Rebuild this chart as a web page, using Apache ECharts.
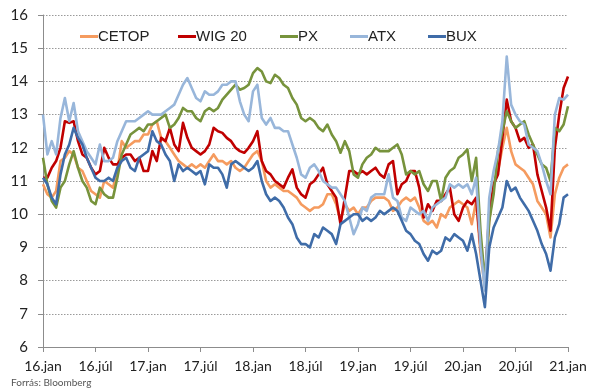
<!DOCTYPE html>
<html>
<head>
<meta charset="utf-8">
<script src="https://cdn.jsdelivr.net/npm/echarts@6/dist/echarts.min.js"></script>
<style>
html,body{margin:0;padding:0;background:#fff;}
#chart{width:591px;height:389px;}
</style>
</head>
<body>
<div id="chart"></div>
<script>
// Semi-monthly observations, Jan 2016 .. Jan 2021 (121 points each)
const seriesNames = ['CETOP', 'WIG 20', 'PX', 'ATX', 'BUX'];
const tickLabels = ['16.jan','16.júl','17.jan','17.júl','18.jan','18.júl','19.jan','19.júl','20.jan','20.júl','21.jan'];

const cetop = [
 10.9,10.6,10.5,10.7,11.6,11.7,11.9,11.8,11.4,11.3,11.0,10.7,10.6,10.5,11.0,10.9,10.8,11.3,12.2,12.0,12.1,12.2,12.2,12.4,
 12.4,12.7,12.8,12.3,12.2,12.0,11.8,11.6,11.5,11.4,11.5,11.4,11.5,11.4,11.6,11.8,11.6,11.6,11.5,11.6,11.4,11.3,11.4,11.6,
 11.8,11.9,11.6,11.0,10.8,10.9,10.8,10.7,10.7,10.6,10.5,10.3,10.2,10.1,10.2,10.2,10.3,10.6,10.6,10.3,9.8,10.3,10.1,10.2,
 10.0,10.2,10.2,10.4,10.5,10.5,10.5,10.4,10.1,10.2,10.4,10.5,10.4,10.5,10.2,9.8,9.7,9.8,9.6,10.0,9.9,10.2,10.3,10.4,
 10.3,10.2,9.7,10.4,8.8,7.8,9.8,10.9,11.3,12.0,12.6,11.9,11.5,11.4,11.3,11.1,10.9,10.4,10.2,10.0,9.3,10.6,11.1,11.4,
 11.5
];
const wig20 = [
 11.1,11.1,11.4,11.6,12.0,12.8,12.75,12.8,12.2,11.8,11.7,11.4,11.2,11.3,12.0,11.7,11.5,11.5,11.7,11.8,11.8,11.6,11.7,11.3,
 11.3,11.9,11.6,12.3,12.2,12.6,12.1,11.9,12.75,12.3,12.0,11.9,11.8,11.9,12.1,12.6,12.5,12.45,12.3,12.2,12.0,11.9,11.85,12.0,
 12.2,12.5,11.6,11.3,11.2,11.0,10.9,10.8,11.1,11.35,10.8,10.6,10.5,10.9,11.0,11.2,11.4,10.9,10.7,10.5,9.7,10.5,11.3,11.3,
 11.2,11.3,11.2,11.3,11.4,11.2,11.1,11.5,11.6,10.6,10.9,11.0,11.3,11.3,10.8,9.9,10.3,10.1,10.4,10.4,10.6,10.8,10.0,9.8,
 10.2,10.4,10.3,10.5,9.0,8.0,10.0,10.9,11.2,12.3,13.45,12.8,12.6,12.2,12.3,12.0,12.1,11.2,10.7,10.2,9.5,12.0,13.0,13.8,
 14.15
];
const px = [
 11.7,10.9,10.4,10.2,10.8,11.0,11.5,11.9,11.4,11.0,10.8,10.4,10.3,10.8,10.6,10.5,10.5,11.1,11.8,12.1,12.4,12.5,12.6,12.5,
 12.7,12.7,12.8,12.9,13.0,12.6,12.7,12.9,13.2,13.1,13.1,12.9,12.8,13.1,13.2,13.1,13.2,13.45,13.6,13.75,13.9,13.75,13.8,13.9,
 14.25,14.4,14.3,14.0,13.95,14.2,14.1,13.9,13.8,13.5,13.3,12.9,12.8,12.9,12.8,12.6,12.5,12.7,12.4,12.2,11.85,12.2,11.9,11.2,
 11.1,11.5,11.7,11.8,12.0,11.9,11.9,11.9,12.0,12.1,11.8,11.2,11.3,11.2,11.3,10.9,10.7,11.0,11.0,10.4,11.1,11.3,11.4,11.7,
 11.8,11.95,11.0,11.7,9.5,8.0,9.8,10.6,11.9,12.5,13.1,12.8,12.6,12.7,12.8,12.4,12.1,11.8,11.5,11.4,11.0,12.6,12.5,12.7,
 13.25
];
const atx = [
 13.0,11.8,12.2,11.8,12.9,13.5,12.8,13.35,12.5,12.2,11.9,11.7,11.5,12.1,11.6,11.6,11.7,12.2,12.5,12.8,12.8,12.8,12.9,13.0,
 13.1,13.0,13.0,13.0,13.1,13.2,13.3,13.6,13.9,14.1,13.8,13.5,13.4,13.7,13.6,13.6,13.7,13.9,13.9,14.0,14.0,13.4,13.0,12.8,
 13.7,13.9,12.9,12.7,12.9,12.6,12.6,12.5,12.5,12.1,11.7,11.2,11.1,11.4,11.5,11.3,11.0,10.9,10.8,10.8,10.6,10.4,9.9,9.4,
 9.7,10.2,10.1,10.5,10.6,10.6,10.6,11.2,10.5,10.4,9.9,9.8,10.2,10.1,10.0,10.1,9.8,10.2,10.3,10.4,10.5,10.9,10.8,10.9,
 10.8,10.9,10.6,11.1,9.0,7.7,10.5,11.3,11.9,12.8,14.75,13.3,13.0,12.8,12.7,12.1,12.0,11.9,11.5,11.0,10.6,13.0,13.5,13.45,
 13.6
];
const bux = [
 11.1,10.9,10.5,10.3,11.2,11.8,12.1,12.6,12.3,12.1,11.7,11.4,11.1,11.0,11.0,11.1,11.0,11.4,11.6,11.7,11.4,11.3,11.7,11.8,
 11.9,12.5,12.2,12.1,11.8,11.6,11.0,11.5,11.3,11.4,11.3,11.2,11.3,10.9,11.5,11.4,11.4,11.2,10.8,11.5,11.6,11.5,11.4,11.3,
 11.4,11.6,11.0,10.6,10.4,10.5,10.4,10.2,9.9,9.7,9.3,9.1,9.1,9.0,9.4,9.3,9.6,9.5,9.4,9.1,9.7,9.8,9.9,10.0,
 10.0,9.8,9.9,9.8,9.9,10.1,10.0,10.1,10.2,10.1,9.8,9.5,9.4,9.2,9.1,8.8,8.6,8.9,8.8,8.9,9.3,9.2,9.4,9.3,
 9.2,8.9,9.4,8.8,8.0,7.2,9.0,9.6,9.9,10.2,11.0,10.7,10.8,10.5,10.3,10.1,9.8,9.5,9.1,8.8,8.3,9.3,9.7,10.5,
 10.6
];

const colors = ['#F59B5F', '#C00000', '#77933C', '#98B6DA', '#3F6CA8'];
const values = [cetop, wig20, px, atx, bux];
const legendLeft = [80, 178, 280, 350, 428];

const chart = echarts.init(document.getElementById('chart'), null, {renderer: 'canvas'});
const axisFont = 'Lato, "Open Sans", sans-serif';

const option = {
  animation: false,
  backgroundColor: '#fff',
  grid: {left: 43, right: 23, top: 15, bottom: 42, containLabel: false},
  legend: seriesNames.map((n, i) => ({
    data: [n],
    left: legendLeft[i],
    top: 29,
    icon: 'rect',
    itemWidth: 18,
    itemHeight: 3,
    itemGap: 0,
    padding: 0,
    selectedMode: false,
    textStyle: {fontFamily: '"Liberation Sans", Arial, sans-serif', fontSize: 15, color: '#222', padding: [0,0,0,-5]}
  })),
  xAxis: {
    type: 'value', min: 0, max: 60, interval: 6,
    axisLine: {show: true, lineStyle: {color: '#8c8c8c', width: 1}},
    axisTick: {show: true, length: 5, lineStyle: {color: '#8c8c8c'}},
    splitLine: {show: false},
    axisLabel: {
      margin: 12, fontFamily: axisFont, fontSize: 14, color: '#222',
      showMinLabel: true, showMaxLabel: true,
      formatter: v => tickLabels[Math.round(v / 6)]
    }
  },
  yAxis: {
    type: 'value', min: 6, max: 16, interval: 1,
    axisLine: {show: true, lineStyle: {color: '#8c8c8c', width: 1}},
    axisTick: {show: true, length: 5, lineStyle: {color: '#8c8c8c'}},
    splitLine: {show: true, lineStyle: {color: '#9a9a9a', type: [1.5, 1.5], width: 1}},
    axisLabel: {margin: 15, fontFamily: axisFont, fontSize: 15, color: '#222'}
  },
  series: seriesNames.map((n, i) => ({
    name: n,
    type: 'line',
    showSymbol: false,
    symbol: 'none',
    color: colors[i],
    lineStyle: {width: 2.6, color: colors[i], join: 'round'},
    data: values[i].map((v, k) => [k * 0.5, v]),
    z: 2 + i
  })),
  graphic: [{
    type: 'text', left: 11, top: 378,
    style: {text: 'Forrás: Bloomberg', fontSize: 10, fill: '#555', fontFamily: axisFont}
  }]
};
chart.setOption(option);
</script>
</body>
</html>
